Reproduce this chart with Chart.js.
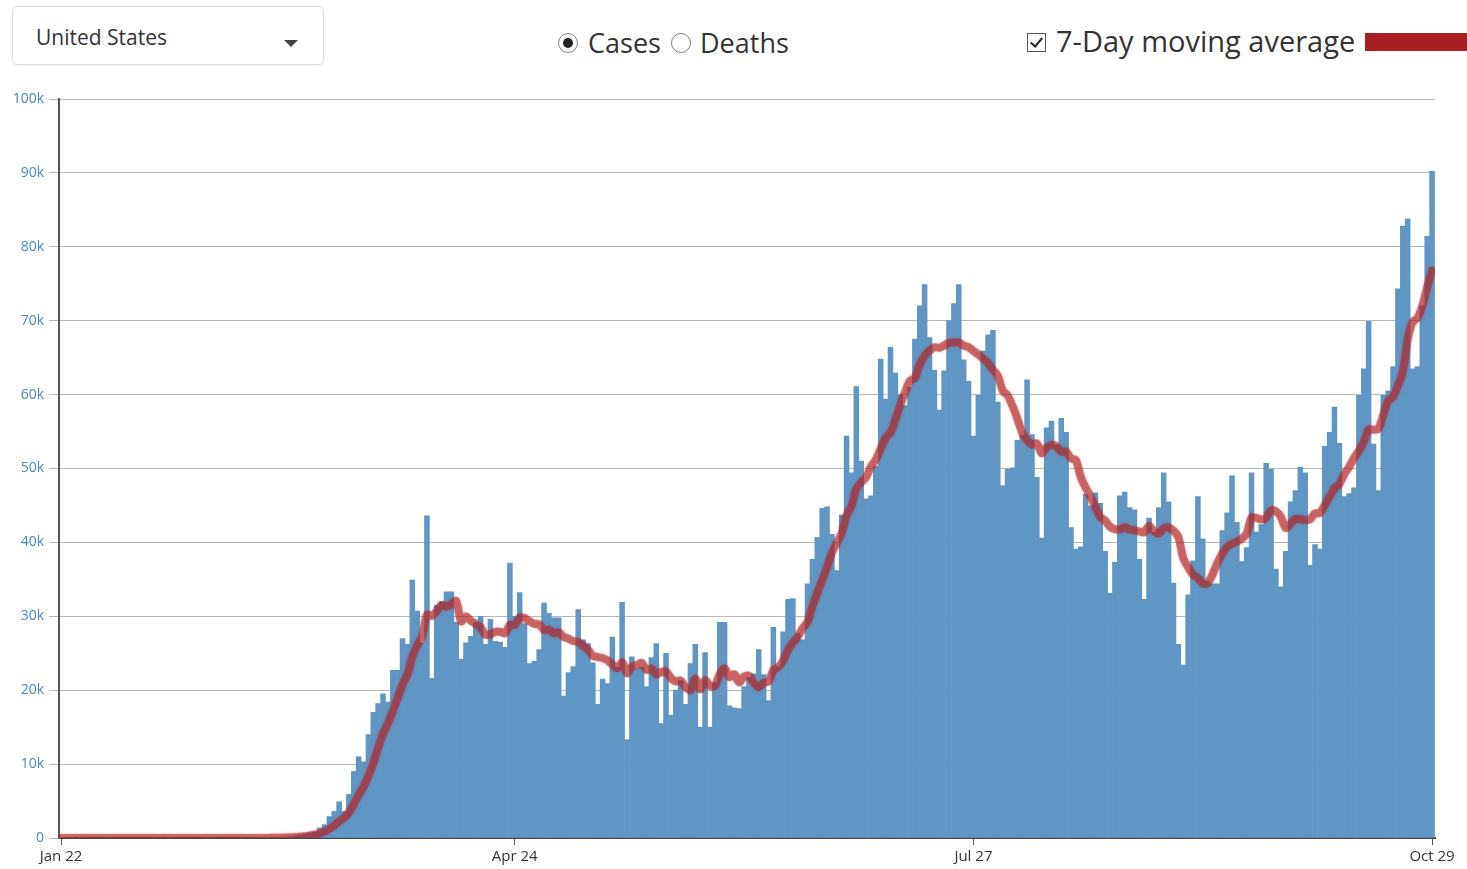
<!DOCTYPE html>
<html>
<head>
<meta charset="utf-8">
<script src="https://cdn.jsdelivr.net/npm/chart.js@4.4.0/dist/chart.umd.min.js"></script>
<style>
  body { margin: 0; background: #fff; font-family: "Open Sans", "Noto Sans", sans-serif; color: #333; }
  .pagina { position: relative; width: 1467px; height: 869px; overflow: hidden; }
  .selector { position: absolute; left: 12px; top: 6px; width: 312px; height: 59px; border: 1px solid #dcdcdc;
    border-radius: 5px; box-sizing: border-box; box-shadow: 0 1px 2px rgba(0,0,0,0.06); }
  .selector span { position: absolute; left: 23px; top: 20px; font-size: 21px; line-height: 21px; color: #333; }
  .selector .flecha { position: absolute; left: 271px; top: 33px; width: 0; height: 0;
    border-left: 7px solid transparent; border-right: 7px solid transparent; border-top: 7px solid #444; }
  .radio { position: absolute; top: 33px; width: 20px; height: 20px; border: 1.5px solid #808080; border-radius: 50%; box-sizing: border-box; }
  .radio.on::after { content: ""; position: absolute; left: 3.5px; top: 3.5px; width: 10px; height: 10px; border-radius: 50%; background: #222; }
  .txt { position: absolute; font-size: 27px; line-height: 27px; color: #333; white-space: nowrap; }
  .check { position: absolute; left: 1027px; top: 33px; width: 19px; height: 19px; border: 1px solid #555; box-sizing: border-box; }
  .check::after { content: ""; position: absolute; left: 5px; top: 1px; width: 5px; height: 10px;
    border-right: 2px solid #222; border-bottom: 2px solid #222; transform: rotate(40deg); }
  .muestra { position: absolute; left: 1365px; top: 33px; width: 102px; height: 18px; background: #a81e23; }
  .contenedor-grafica { position: absolute; left: 0; top: 80px; width: 1467px; height: 789px; }
</style>
</head>
<body>
<div class="pagina">
  <div class="selector"><span>United States</span><div class="flecha"></div></div>
  <div class="radio on" style="left:558px"></div>
  <div class="txt" style="left:588px; top:29px">Cases</div>
  <div class="radio" style="left:671px"></div>
  <div class="txt" style="left:700px; top:29px">Deaths</div>
  <div class="check"></div>
  <div class="txt" style="left:1056px; top:26px; font-size:29px; line-height:29px">7-Day moving average</div>
  <div class="muestra"></div>
  <div class="contenedor-grafica"><canvas id="grafica"></canvas></div>
</div>
<script>
// casos diarios, 22 ene - 29 oct
var casosEne = [1, 0, 1, 0, 3, 0, 0, 0, 0, 1];
var casosFeb = [1, 0, 0, 0, 0, 0, 0, 0, 0, 1, 0, 0, 1, 0, 0, 0, 0, 0, 0, 0, 2, 13, 0, 0, 0, 0, 0, 1, 0];
var casosMar = [8, 20, 20, 30, 70, 70, 100, 120, 200, 300, 450, 550, 700, 800, 1350, 1800, 2900, 3600, 4900, 3600,
    5900, 9000, 11000, 10300, 14000, 17000, 18200, 19500, 18400, 22700, 22700];
var casosAbr = [27000, 26200, 34900, 30700, 26400, 43600, 21600, 31500, 32000, 33300, 33300, 29200, 24200, 26400, 27300,
    29200, 30000, 26200, 29600, 26600, 26500, 25800, 37200, 30000, 33200, 29000, 23600, 23900, 25500, 31800];
var casosMay = [30400, 29800, 29800, 19200, 22400, 23200, 30900, 26800, 26300, 23700, 18100, 21500, 20900, 27200, 23100,
    31900, 13300, 24500, 22900, 23100, 20500, 24400, 26300, 15500, 25000, 16600, 20000, 21300, 18100, 23600, 26200];
var casosJun = [15000, 25100, 15000, 21000, 29200, 29200, 17900, 17600, 17500, 20500, 21700, 22200, 25500, 22100, 18600,
    28500, 23200, 27900, 32300, 32400, 27700, 26800, 34400, 37700, 40700, 44600, 44800, 41100, 36200, 43700];
var casosJul = [54400, 49400, 61100, 51000, 45900, 46300, 50300, 64800, 59400, 66400, 62900, 60000, 58500, 61000, 67500,
    72000, 74900, 67700, 63300, 57900, 63200, 70000, 72300, 74900, 64700, 61800, 54400, 59900, 65900, 68100, 68700];
var casosAgo = [59000, 47700, 49900, 50100, 53800, 54500, 62000, 54600, 48800, 40600, 55500, 56400, 53200, 56800, 54900,
    42000, 39100, 39400, 46500, 44900, 46700, 45300, 38800, 33100, 37300, 46300, 46800, 44700, 44400, 37700, 32300];
var casosSep = [43300, 41400, 44700, 49400, 45500, 34500, 26200, 23400, 32900, 37500, 46200, 40500, 34700, 34400, 34400,
    41600, 44000, 49000, 42700, 37400, 39300, 49400, 41400, 42400, 50700, 49900, 36400, 34000, 38800, 45500];
var casosOct = [47000, 50200, 49400, 36900, 39700, 39100, 53000, 54900, 58300, 53400, 46200, 46600, 47400, 59900, 63500,
    69900, 53300, 47000, 59900, 60500, 63800, 74300, 82800, 83800, 63500, 63800, 72000, 81400, 90200];

// etiquetas del eje x (dia desde el 22 de enero)
var diasEtiqueta = [0, 93, 187, 281];
var textosEtiqueta = ['Jan 22', 'Apr 24', 'Jul 27', 'Oct 29'];
var ticksY = [0, 10000, 20000, 30000, 40000, 50000, 60000, 70000, 80000, 90000, 100000];

var casos = [].concat(casosEne, casosFeb, casosMar, casosAbr, casosMay, casosJun, casosJul, casosAgo, casosSep, casosOct);

// promedio movil de 7 dias
var promedio = casos.map(function (v, i) {
    var desde = Math.max(0, i - 6);
    var trozo = casos.slice(desde, i + 1);
    return trozo.reduce(function (a, b) { return a + b; }, 0) / trozo.length;
});

var sombraLinea = {
    id: 'sombraLinea',
    beforeDatasetDraw: function (chart, args) {
        if (args.index === 1) {
            chart.ctx.save();
            chart.ctx.shadowColor = 'rgba(178, 34, 34, 0.55)';
            chart.ctx.shadowBlur = 3;
        }
    },
    afterDatasetDraw: function (chart, args) {
        if (args.index === 1) chart.ctx.restore();
    }
};

var ctx = document.getElementById('grafica').getContext('2d');
var miGrafico = new Chart(ctx, {
    type: 'bar',
    data: {
        datasets: [{
            type: 'bar',
            label: 'Cases',
            data: casos.map(function (v, i) { return { x: i, y: v }; }),
            backgroundColor: '#6096c3',
            borderWidth: 0,
            barPercentage: 1,
            categoryPercentage: 1,
            order: 2
        }, {
            type: 'line',
            label: '7-Day moving average',
            data: promedio.map(function (v, i) { return { x: i, y: v }; }),
            borderColor: 'rgba(178, 34, 34, 0.58)',
            borderWidth: 8,
            pointRadius: 0,
            tension: 0.3,
            fill: false,
            borderCapStyle: 'round',
            borderJoinStyle: 'round',
            order: 1
        }]
    },
    options: {
        responsive: true,
        maintainAspectRatio: false,
        devicePixelRatio: 1,
        animation: false,
        layout: { padding: { top: 19, right: 32, left: 0, bottom: 0 } },
        plugins: {
            legend: { display: false },
            tooltip: { enabled: false }
        },
        scales: {
            x: {
                type: 'linear',
                offset: false,
                min: -0.41,
                max: 281.6,
                z: 1,
                afterBuildTicks: function (scale) {
                    scale.ticks = diasEtiqueta.map(function (d) { return { value: d }; });
                },
                afterFit: function (scale) { scale.height = 31; },
                ticks: {
                    autoSkip: false,
                    maxRotation: 0,
                    padding: 3,
                    color: '#333',
                    font: { family: 'Open Sans', size: 15 },
                    callback: function (v) { return textosEtiqueta[diasEtiqueta.indexOf(v)]; }
                },
                grid: { drawOnChartArea: false, tickLength: 7, color: '#555', offset: false },
                border: { color: '#444', width: 2 }
            },
            y: {
                min: 0,
                max: 100000,
                z: 1,
                afterBuildTicks: function (scale) {
                    scale.ticks = ticksY.map(function (v) { return { value: v }; });
                },
                afterFit: function (scale) { scale.width = 59; },
                ticks: {
                    padding: 5,
                    color: '#4a86c0',
                    font: { family: 'Open Sans', size: 14 },
                    callback: function (v) { return v === 0 ? '0' : (v / 1000) + 'k'; }
                },
                grid: { color: 'rgba(0, 0, 0, 0.28)', tickLength: 10, lineWidth: 1 },
                border: { color: '#555', width: 2 }
            }
        }
    },
    plugins: [sombraLinea]
});
</script>
</body>
</html>
